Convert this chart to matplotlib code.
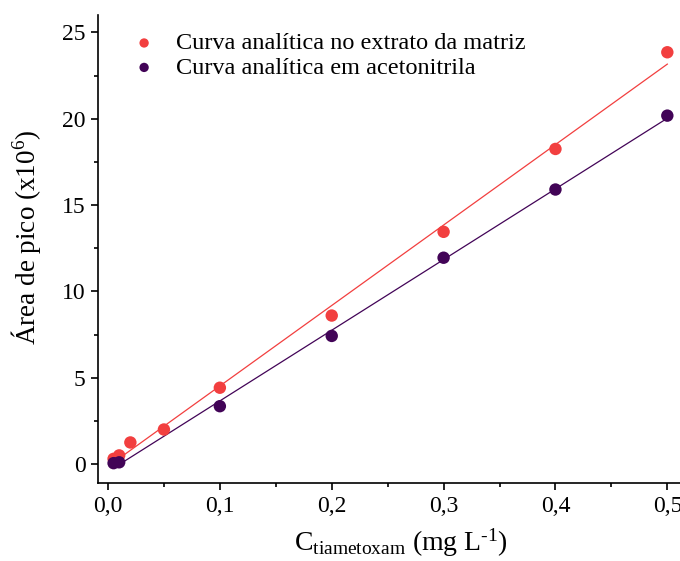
import matplotlib
matplotlib.use("Agg")
import matplotlib.pyplot as plt
import numpy as np
from matplotlib.ticker import MultipleLocator, FuncFormatter

plt.rcParams["font.family"] = ["Liberation Serif", "DejaVu Serif"]
plt.rcParams["mathtext.fontset"] = "custom"
plt.rcParams["mathtext.rm"] = "Liberation Serif"
plt.rcParams["mathtext.it"] = "Liberation Serif:italic"

# concentration (mg/L) and peak area (x10^6)
conc_matriz = [0.005, 0.01, 0.02, 0.05, 0.1, 0.2, 0.3, 0.4, 0.5]
area_matriz = [0.3, 0.5, 1.25, 2.0, 4.42, 8.6, 13.45, 18.25, 23.85]
conc_acn = [0.005, 0.01, 0.1, 0.2, 0.3, 0.4, 0.5]
area_acn = [0.05, 0.1, 3.35, 7.42, 11.95, 15.9, 20.18]

red = "#F23F3F"
purple = "#420457"

fig = plt.figure(figsize=(6.8, 5.61), dpi=100)
ax = fig.add_axes([0.144, 0.139, 0.89, 0.834])

for x, y, c, lab in [(conc_matriz, area_matriz, red, "Curva analítica no extrato da matriz"),
                     (conc_acn, area_acn, purple, "Curva analítica em acetonitrila")]:
    x = np.asarray(x)
    y = np.asarray(y)
    k, b = np.polyfit(x, y, 1)
    xf = np.array([x.min(), x.max()])
    ax.plot(xf, k * xf + b, color=c, lw=0.9, zorder=2)
    ax.scatter(x, y, s=80, color=c, edgecolors="none", zorder=3, label=lab)

ax.set_xlim(-0.009, 0.532)
ax.set_ylim(-1.1, 26)
ax.xaxis.set_major_locator(MultipleLocator(0.1))
ax.xaxis.set_minor_locator(MultipleLocator(0.05))
ax.yaxis.set_major_locator(MultipleLocator(5))
ax.yaxis.set_minor_locator(MultipleLocator(2.5))
ax.xaxis.set_major_formatter(FuncFormatter(lambda v, p: f"{v:.1f}".replace(".", ",")))
ax.yaxis.set_major_formatter(FuncFormatter(lambda v, p: f"{v:.0f}"))

for s in ["top", "right"]:
    ax.spines[s].set_visible(False)
for s in ["left", "bottom"]:
    ax.spines[s].set_linewidth(1.2)
ax.tick_params(which="major", direction="out", length=5, width=1.2, labelsize=17, pad=4)
ax.tick_params(which="minor", direction="out", length=3, width=1.2)

ax.set_xlabel(r"C$_{\mathrm{tiametoxam}}$ (mg L$^{\text{-1}}$)", fontsize=20, labelpad=7)
ax.set_ylabel(r"Área de pico (x10$^{\mathrm{6}}$)", fontsize=19.5)
ax.yaxis.set_label_coords(-0.09, 0.526)

ax.legend(loc="upper left", bbox_to_anchor=(0.0, 1.01), frameon=False, fontsize=17.5,
          handletextpad=0.3, labelspacing=0.1, scatterpoints=1, markerscale=0.75)

fig.savefig("out.png", dpi=100)
